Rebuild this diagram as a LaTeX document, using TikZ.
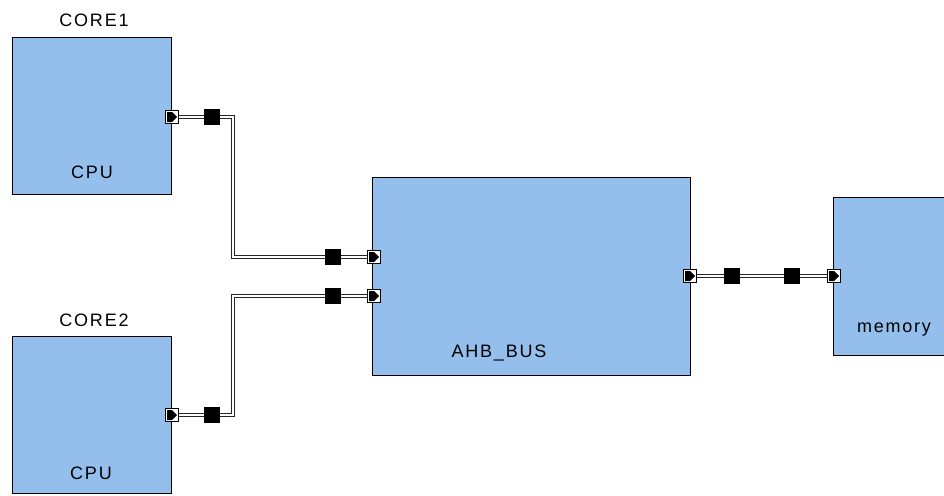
\documentclass[tikz,border=0pt]{standalone}
\usepackage{fontspec}
\setmainfont{Liberation Sans}[LetterSpace=10]
\usetikzlibrary{backgrounds}
\definecolor{blockblue}{RGB}{148,190,236}
\begin{document}
\begin{tikzpicture}[
  x=1pt, y=-1pt,
  every node/.style={font=\fontsize{18}{21}\selectfont},
  block/.style={
    draw,
    fill=blockblue,
    anchor=north west,
    inner sep=0pt,
    line width=0.9pt
  },
  port/.style={
    draw,
    fill=white,
    minimum size=13pt,
    inner sep=0pt,
    line width=0.7pt,
    path picture={
      \fill[black] ([shift={(1.5pt,1.5pt)}]path picture bounding box.south west)
        -- ([shift={(0pt,1.5pt)}]path picture bounding box.south)
        -- ([shift={(-1.5pt,0pt)}]path picture bounding box.east)
        -- ([shift={(0pt,-1.5pt)}]path picture bounding box.north)
        -- ([shift={(1.5pt,-1.5pt)}]path picture bounding box.north west) -- cycle;
    }
  },
  joint/.style={
    fill=black,
    minimum size=15.5pt,
    inner sep=0pt
  },
  bus/.style={
    draw=black!85,
    line width=1pt,
    double=white,
    double distance=1.8pt
  }
]
\useasboundingbox (0,0) rectangle (944,495);
\clip (0,0) rectangle (944,495);

% blocks
\node[block, minimum width=159pt, minimum height=157pt] (core1) at (12,37) {};
\node[block, minimum width=159pt, minimum height=157pt] (core2) at (12,336) {};
\node[block, minimum width=318pt, minimum height=198pt] (ahb) at (372,177) {};
\node[block, minimum width=122pt, minimum height=158pt] (mem) at (833,197) {};

\node (core1name) at (94,20) {CORE1};
\node (core2name) at (94,320) {CORE2};
\node (core1type) at (92,172) {CPU};
\node (core2type) at (91,473) {CPU};
\node (ahbname) at (499,353) {AHB\_BUS};
\node (memname) at (894,330) {memory};

% ports
\node[port] (core1out) at (172,117) {};
\node[port] (core2out) at (172,415) {};
\node[port] (ahbin1) at (374,257) {};
\node[port] (ahbin2) at (374,296) {};
\node[port] (ahbout) at (690,276) {};
\node[port] (memin) at (834,276) {};

% bus joints
\node[joint] (j1a) at (212,117) {};
\node[joint] (j1b) at (333,257) {};
\node[joint] (j2a) at (212,415) {};
\node[joint] (j2b) at (333,296) {};
\node[joint] (j3a) at (732,276) {};
\node[joint] (j3b) at (792,276) {};

\coordinate (bend1) at (233,117);
\coordinate (bend2) at (233,415);

\begin{pgfonlayer}{background}
\draw[bus] (core1out.center) -- (j1a.center) -- (bend1) |- (j1b.center) -- (ahbin1.center);
\draw[bus] (core2out.center) -- (j2a.center) -- (bend2) |- (j2b.center) -- (ahbin2.center);
\draw[bus] (ahbout.center) -- (j3a.center) -- (j3b.center) -- (memin.center);
\end{pgfonlayer}
\end{tikzpicture}
\end{document}
